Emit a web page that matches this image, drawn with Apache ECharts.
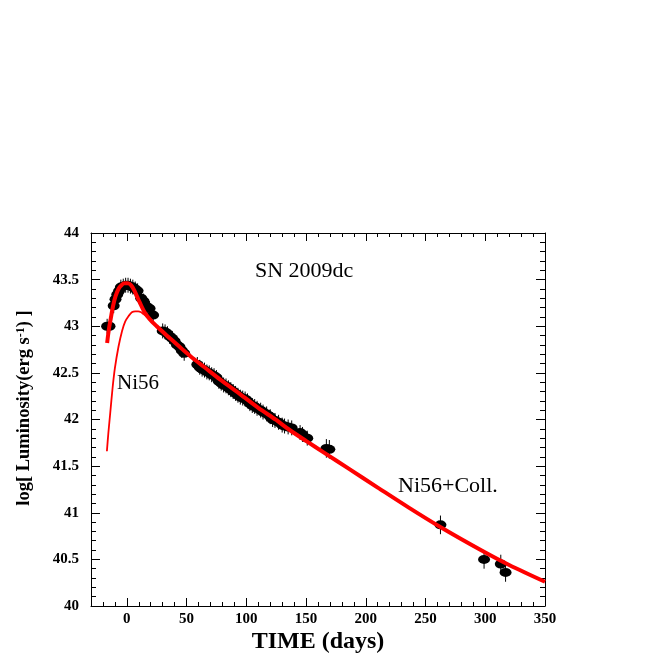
<!DOCTYPE html>
<html>
<head>
<meta charset="utf-8">
<script src="https://cdn.jsdelivr.net/npm/echarts@6/dist/echarts.min.js"></script>
<style>
  html, body { margin: 0; padding: 0; background: #fff; }
  #chart { width: 654px; height: 654px; }
</style>
</head>
<body>
<div id="chart"></div>
<script>
// SN 2009dc bolometric light curve
const obsDay = [-16.5, -14.5, -11, -9.5, -8, -6.5, -5, -3, -1, 1, 3, 5, 7, 9, 12, 14, 17, 19, 22,
  30, 32, 34, 36, 38, 40, 42, 44, 46, 48, 59, 61, 63, 65, 67, 69, 71, 73, 75, 77, 79, 81, 83, 85,
  87, 89, 91, 93, 95, 97, 99, 101, 103, 105, 107, 109, 112, 114, 117, 120, 122, 124, 127, 130,
  132, 135, 138, 145, 147, 151, 167, 169.5, 262.5, 299, 313, 317]
const obsLum = [43.00, 43.00, 43.22, 43.29, 43.34, 43.38, 43.42, 43.43, 43.44, 43.44, 43.43, 43.42,
  43.40, 43.38, 43.30, 43.27, 43.21, 43.19, 43.12,
  42.95, 42.94, 42.92, 42.89, 42.87, 42.84, 42.80, 42.78, 42.74, 42.71, 42.59, 42.56, 42.54, 42.53,
  42.51, 42.50, 42.48, 42.47, 42.45, 42.41, 42.39, 42.37, 42.36, 42.34, 42.32, 42.30, 42.28, 42.26,
  42.24, 42.23, 42.22, 42.20, 42.17, 42.15, 42.14, 42.12, 42.10, 42.08, 42.06, 42.03, 42.00, 41.99,
  41.97, 41.94, 41.93, 41.92, 41.91, 41.86, 41.84, 41.80, 41.69, 41.68, 40.87, 40.50, 40.45, 40.36]
const obsErr = [0.08, 0.08, 0.08, 0.08, 0.08, 0.08, 0.08, 0.08, 0.08, 0.08, 0.08, 0.08, 0.08, 0.08,
  0.08, 0.08, 0.08, 0.08, 0.08, 0.08, 0.08, 0.08, 0.08, 0.08, 0.08, 0.08, 0.08, 0.08, 0.08, 0.08,
  0.08, 0.08, 0.08, 0.08, 0.08, 0.08, 0.08, 0.08, 0.08, 0.08, 0.08, 0.08, 0.08, 0.08, 0.08, 0.08,
  0.08, 0.08, 0.08, 0.08, 0.08, 0.08, 0.08, 0.08, 0.08, 0.08, 0.08, 0.08, 0.08, 0.08, 0.08, 0.08,
  0.08, 0.08, 0.08, 0.08, 0.08, 0.08, 0.08, 0.1, 0.1, 0.1, 0.1, 0.1, 0.1]

// model: Ni56 + collision (thick)
const fitDay = [-16.5, -15, -13.5, -11.5, -9.5, -7, -4.5, -2, 1, 3.5, 6, 8.5, 11, 14, 17, 21, 25,
  30, 36, 45, 55, 65, 78, 95, 110, 125, 136, 150, 165, 186, 210, 236, 262, 297, 320, 350]
const fitLum = [42.82, 42.97, 43.08, 43.22, 43.32, 43.40, 43.44, 43.46, 43.46, 43.44, 43.39, 43.32,
  43.25, 43.17, 43.11, 43.05, 43.00, 42.94, 42.87, 42.77, 42.66, 42.56, 42.43, 42.27, 42.125, 41.995,
  41.89, 41.77, 41.645, 41.47, 41.27, 41.055, 40.85, 40.595, 40.44, 40.26]

// model: Ni56 only (thin), hidden under the thick line later on
const niDay = [-16.7, -15.5, -13.9, -12, -10, -7, -4, -1.4, 1.5, 4.2, 7, 9.5, 12, 14, 17, 20, 25, 30, 36]
const niLum = [41.66, 41.85, 42.07, 42.33, 42.55, 42.78, 42.95, 43.05, 43.11, 43.15, 43.16, 43.16,
  43.15, 43.13, 43.10, 43.07, 43.01, 42.95, 42.87]

const xMajor = [0, 50, 100, 150, 200, 250, 300, 350]

const zip = (a, b, c) => a.map((v, i) => c ? [v, b[i], c[i]] : [v, b[i]])
const font = "'Liberation Serif', 'DejaVu Serif', serif"

const chart = echarts.init(document.getElementById('chart'))

const baseX = {
  type: 'value',
  min: -30,
  max: 350,
  interval: 10,
  gridIndex: 0,
  splitLine: { show: false },
  axisLine: { show: true, onZero: false, lineStyle: { color: '#000', width: 1 } }
}
const baseY = {
  type: 'value',
  min: 40,
  max: 44,
  interval: 0.5,
  splitLine: { show: false },
  axisLine: { show: true, onZero: false, lineStyle: { color: '#000', width: 1 } },
  axisTick: { inside: true, length: 9, lineStyle: { color: '#000' } },
  minorTick: { show: true, splitNumber: 5, length: 5, lineStyle: { color: '#000' } }
}

chart.setOption({
  animation: false,
  backgroundColor: '#fff',
  grid: { left: 91, right: 109, top: 233, bottom: 48 },
  xAxis: [{
    ...baseX,
    position: 'bottom',
    axisTick: { inside: true, length: 4, lineStyle: { color: '#000' } },
    axisLabel: {
      customValues: xMajor,
      margin: 6,
      color: '#000',
      fontFamily: font,
      fontWeight: 'bold',
      fontSize: 15
    }
  }, {
    ...baseX,
    position: 'top',
    axisTick: { inside: true, length: 4, lineStyle: { color: '#000' } },
    axisLabel: { show: false }
  }, {
    ...baseX,
    position: 'bottom',
    axisLine: { show: false },
    axisTick: { inside: true, length: 8, customValues: xMajor, lineStyle: { color: '#000' } },
    axisLabel: { show: false }
  }, {
    ...baseX,
    position: 'top',
    axisLine: { show: false },
    axisTick: { inside: true, length: 8, customValues: xMajor, lineStyle: { color: '#000' } },
    axisLabel: { show: false }
  }],
  yAxis: [{
    ...baseY,
    position: 'left',
    axisLabel: {
      margin: 12,
      color: '#000',
      fontFamily: font,
      fontWeight: 'bold',
      fontSize: 15
    }
  }, {
    ...baseY,
    position: 'right',
    axisLabel: { show: false }
  }],
  graphic: [{
    type: 'text',
    x: 24,
    y: 408,
    rotation: Math.PI / 2,
    style: {
      text: '{m|log[ Luminosity(erg s}{s|-1}{m|) ]}',
      align: 'center',
      verticalAlign: 'middle',
      fill: '#000',
      rich: {
        m: { fontFamily: font, fontWeight: 'bold', fontSize: 18.5, fill: '#000' },
        s: { fontFamily: font, fontWeight: 'bold', fontSize: 12, verticalAlign: 'top', fill: '#000' }
      }
    }
  }, {
    type: 'text',
    x: 318,
    y: 642,
    style: {
      text: 'TIME (days)',
      align: 'center',
      verticalAlign: 'middle',
      fill: '#000',
      font: 'bold 24px ' + font
    }
  }, {
    type: 'text',
    x: 255,
    y: 271,
    style: { text: 'SN 2009dc', verticalAlign: 'middle', fill: '#000', font: '22px ' + font }
  }, {
    type: 'text',
    x: 117,
    y: 383,
    style: { text: 'Ni56', verticalAlign: 'middle', fill: '#000', font: '21px ' + font }
  }, {
    type: 'text',
    x: 398,
    y: 486,
    style: { text: 'Ni56+Coll.', verticalAlign: 'middle', fill: '#000', font: '22px ' + font }
  }],
  series: [{
    name: 'errors',
    type: 'custom',
    xAxisIndex: 0,
    yAxisIndex: 0,
    data: zip(obsDay, obsLum, obsErr),
    encode: { x: 0, y: 1 },
    renderItem: (params, api) => {
      const x = api.value(0)
      const y = api.value(1)
      const e = api.value(2)
      const lo = api.coord([x, y - e])
      const hi = api.coord([x, y + e])
      return {
        type: 'line',
        shape: { x1: lo[0], y1: lo[1], x2: hi[0], y2: hi[1] },
        style: { stroke: '#000', lineWidth: 1 }
      }
    }
  }, {
    name: 'SN 2009dc',
    type: 'scatter',
    xAxisIndex: 0,
    yAxisIndex: 0,
    symbol: 'circle',
    symbolSize: [12, 9],
    itemStyle: { color: '#000', opacity: 1 },
    data: zip(obsDay, obsLum)
  }, {
    name: 'Ni56',
    type: 'line',
    xAxisIndex: 0,
    yAxisIndex: 0,
    smooth: 0.3,
    showSymbol: false,
    lineStyle: { color: '#ff0000', width: 1.8 },
    data: zip(niDay, niLum)
  }, {
    name: 'Ni56+Coll.',
    type: 'line',
    xAxisIndex: 0,
    yAxisIndex: 0,
    smooth: 0.3,
    showSymbol: false,
    lineStyle: { color: '#ff0000', width: 4 },
    data: zip(fitDay, fitLum)
  }]
})
</script>
</body>
</html>
